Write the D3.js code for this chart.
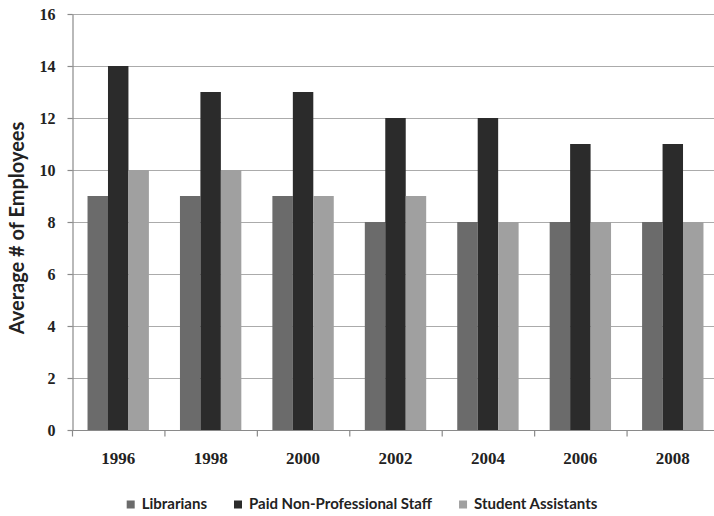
<!DOCTYPE html>
<html>
<head>
<meta charset="utf-8">
<script src="https://cdn.jsdelivr.net/npm/d3@7"></script>
<style>
  html, body { margin: 0; padding: 0; background: #fff; }
  svg { display: block; }
</style>
</head>
<body>
<svg id="chart" width="714" height="516"></svg>
<script>
// Staffing averages by survey year
const years = ["1996", "1998", "2000", "2002", "2004", "2006", "2008"];
const seriesNames = ["Librarians", "Paid Non-Professional Staff", "Student Assistants"];
const librarians = [9, 9, 9, 8, 8, 8, 8];
const paidStaff = [14, 13, 13, 12, 12, 11, 11];
const studentAssistants = [10, 10, 9, 9, 8, 8, 8];
const yTicks = [0, 2, 4, 6, 8, 10, 12, 14, 16];
const seriesColors = ["#6b6b6b", "#2b2b2b", "#a0a0a0"];

const seriesValues = [librarians, paidStaff, studentAssistants];

const svg = d3.select("#chart");
const plotLeft = 72, plotBottom = 430, plotTop = 14, plotRight = 719;

const y = d3.scaleLinear().domain([0, 16]).range([plotBottom, plotTop]);
const x = d3.scaleBand().domain(years).range([plotLeft, plotRight]).padding(0);
const xInner = d3.scaleBand().domain(seriesNames)
  .range([x.bandwidth() * 0.168, x.bandwidth() * 0.832]).padding(0);

const serif = "'Liberation Serif', 'DejaVu Serif', serif";
const sans = "Lato, 'Open Sans', sans-serif";

// Horizontal gridlines
svg.append("g")
  .selectAll("line")
  .data(yTicks.filter(d => d > 0))
  .join("line")
  .attr("x1", plotLeft).attr("x2", plotRight)
  .attr("y1", d => Math.round(y(d)) + 0.5).attr("y2", d => Math.round(y(d)) + 0.5)
  .attr("stroke", "#ababab").attr("stroke-width", 1.2);

// Bars
const groups = svg.append("g")
  .selectAll("g")
  .data(years)
  .join("g")
  .attr("transform", d => `translate(${x(d)},0)`);

groups.selectAll("rect")
  .data((yr, i) => seriesNames.map((s, j) => ({ s, j, v: seriesValues[j][i] })))
  .join("rect")
  .attr("x", d => xInner(d.s))
  .attr("width", xInner.bandwidth())
  .attr("y", d => y(d.v))
  .attr("height", d => y(0) - y(d.v))
  .attr("fill", d => seriesColors[d.j]);

// Y axis
const yAxis = svg.append("g")
  .attr("transform", `translate(${plotLeft + 0.5},0)`)
  .call(d3.axisLeft(y).tickValues(yTicks).tickSize(5).tickPadding(12).tickSizeOuter(0));
yAxis.select(".domain").attr("stroke", "#8a8a8a").attr("stroke-width", 1.2);
yAxis.selectAll(".tick line").attr("stroke", "#8a8a8a").attr("stroke-width", 1.2);
yAxis.selectAll(".tick text")
  .attr("font-family", serif).attr("font-weight", "bold")
  .attr("font-size", 16).attr("fill", "#222");

// X axis with ticks at band boundaries
const xAxis = svg.append("g").attr("transform", `translate(0,${plotBottom + 0.5})`);
xAxis.append("line")
  .attr("x1", plotLeft).attr("x2", plotRight)
  .attr("stroke", "#8a8a8a").attr("stroke-width", 1.2);
xAxis.selectAll("line.tk")
  .data(years)
  .join("line")
  .attr("class", "tk")
  .attr("x1", d => x(d) + 0.5).attr("x2", d => x(d) + 0.5)
  .attr("y1", 0).attr("y2", 6)
  .attr("stroke", "#8a8a8a").attr("stroke-width", 1.2);
xAxis.selectAll("text")
  .data(years)
  .join("text")
  .attr("x", d => x(d) + x.bandwidth() / 2)
  .attr("y", 33)
  .attr("text-anchor", "middle")
  .attr("font-family", serif).attr("font-weight", "bold")
  .attr("font-size", 17).attr("fill", "#222")
  .text(d => d);

// Y axis title
svg.append("text")
  .attr("transform", `translate(24,228) rotate(-90)`)
  .attr("text-anchor", "middle")
  .attr("font-family", sans).attr("font-weight", "bold")
  .attr("font-size", 20).attr("fill", "#222")
  .text("Average # of Employees");

// Legend
const legend = svg.append("g");
const items = legend.selectAll("g")
  .data(seriesNames)
  .join("g");
items.append("rect")
  .attr("width", 8).attr("height", 8)
  .attr("y", -8.5)
  .attr("fill", (d, i) => seriesColors[i]);
items.append("text")
  .attr("x", 15).attr("y", 0)
  .attr("font-family", sans).attr("font-weight", "bold")
  .attr("font-size", 15).attr("fill", "#222")
  .text(d => d);
let cursor = 0;
const offsets = [];
items.each(function () {
  offsets.push(cursor);
  const w = 15 + d3.select(this).select("text").node().getComputedTextLength();
  cursor += w + 27;
});
const total = cursor - 27;
const startX = 362 - total / 2;
items.attr("transform", (d, i) => `translate(${startX + offsets[i]},509)`);
</script>
</body>
</html>
